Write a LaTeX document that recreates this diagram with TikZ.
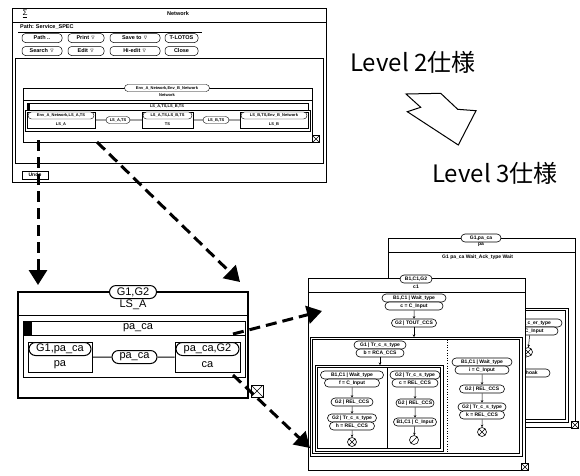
\documentclass[tikz,border=0pt]{standalone}
\usepackage{amssymb}
\usepackage{fontspec}
\setmainfont{Liberation Sans}
\newfontfamily\jfont{Noto Sans CJK JP}
\usetikzlibrary{positioning,shapes.misc,arrows.meta}

\begin{document}
\begin{tikzpicture}[
  x=1pt, y=-1pt,
  win/.style={draw, line width=0.8pt, fill=white},
  frm/.style={draw, line width=0.6pt},
  tiny/.style={font=\fontsize{4}{4}\selectfont\bfseries, inner sep=0pt},
  tgate/.style={draw, rounded rectangle, line width=0.4pt, fill=white, inner sep=0.4pt, minimum height=7pt, tiny},
  tbox/.style={draw, line width=0.4pt, fill=white, minimum height=16pt, inner sep=0pt},
  mtext/.style={font=\fontsize{11}{11}\selectfont, inner sep=0pt},
  mgate/.style={draw, rounded rectangle, line width=1pt, fill=white, inner sep=0.5pt, minimum height=13pt, mtext},
  mbox/.style={draw, line width=1pt, fill=white, minimum height=30pt, inner sep=0pt},
  rtext/.style={font=\fontsize{5}{5}\selectfont\bfseries, inner sep=0pt},
  rgate/.style={draw, rounded rectangle, line width=0.6pt, fill=white, inner sep=0.4pt, minimum height=8pt, rtext},
  btn/.style={draw, rounded corners=3.5pt, line width=0.5pt, minimum height=9pt, inner sep=1pt, font=\fontsize{5.5}{6}\selectfont\bfseries},
  closebox/.style={draw, line width=0.6pt, fill=white, inner sep=0pt, path picture={\draw (path picture bounding box.north west) -- (path picture bounding box.south east) (path picture bounding box.north east) -- (path picture bounding box.south west);}},
  endx/.style={draw, circle, line width=0.6pt, minimum size=9pt, inner sep=0pt, path picture={\draw (path picture bounding box.north west) -- (path picture bounding box.south east) (path picture bounding box.north east) -- (path picture bounding box.south west);}},
  endslash/.style={draw, circle, line width=0.6pt, minimum size=9pt, inner sep=0pt, path picture={\draw (path picture bounding box.south west) -- (path picture bounding box.north east);}},
  flow/.style={-{Stealth[length=2.5pt,width=2.5pt]}, line width=0.5pt},
  dasharr/.style={-{Triangle[length=15pt,width=18pt]}, line width=3pt, dash pattern=on 11pt off 6pt},
]
\fill[white] (0,0) rectangle (580,475);
\useasboundingbox (0,0) rectangle (580,475);

% --- Level 2 window ---
\draw[win] (12,8) rectangle (326,182);
\draw[frm] (12,22) -- (326,22);
\node[font=\fontsize{8}{8}\selectfont] (sigma) at (25,14) {\underline{Σ}};
\node[font=\fontsize{5.5}{6}\selectfont\bfseries] (title) at (178,14) {Network};
\node[font=\fontsize{5.5}{6}\selectfont\bfseries, anchor=west, inner sep=0pt] (path) at (20,27) {Path: Service\_SPEC};
\draw[frm] (18,32) -- (202,32);
\node[btn, minimum width=40pt] (bpath) at (42,38) {Path ..};
\node[btn, minimum width=36pt] (bprint) at (86,38) {Print $\triangledown$};
\node[btn, minimum width=50pt] (bsave) at (135,38) {Save to $\triangledown$};
\node[btn, minimum width=33pt] (blotos) at (181.5,38) {T-LOTOS};
\node[btn, minimum width=40pt] (bsearch) at (42,51) {Search $\triangledown$};
\node[btn, minimum width=36pt] (bedit) at (86,51) {Edit $\triangledown$};
\node[btn, minimum width=50pt] (bhiedit) at (135,51) {Hi-edit $\triangledown$};
\node[btn, minimum width=33pt] (bclose) at (181.5,51) {Close};
\draw[frm] (15,58) rectangle (323,163);
\node[draw, fill=white, line width=0.5pt, minimum width=26pt, minimum height=8pt, inner sep=0pt, font=\fontsize{5}{5}\selectfont\bfseries] (undo) at (35,175) {Undo};

% --- Network behaviour ---
\draw[frm] (23,88) rectangle (312,142);
\node[tgate, minimum width=85pt] (netg) at (167,88) {Env\_A\_Network,Env\_B\_Network};
\node[tiny] (net) at (167,95) {Network};
\draw[frm] (23,100) -- (312,100);
\draw[frm] (27,103) rectangle (308,110);
\fill (27,103) rectangle (30,110);
\node[tiny] (netbar) at (167,106.5) {LS\_A,TS,LS\_B,TS};
\draw[frm] (25,110) rectangle (310,131);
\node[tbox, minimum width=68pt] (lsa) at (61,120) {};
\node[tgate, minimum width=66pt] (lsag) at (61,115.5) {Env\_A\_Network,LS\_A,TS};
\node[tiny] at (61,124.5) {LS\_A};
\node[tgate, minimum width=24pt] (hida) at (118,120) {LS\_A,TS};
\node[tbox, minimum width=51pt] (ts) at (167.5,120) {};
\node[tgate, minimum width=49pt] (tsg) at (167.5,115.5) {LS\_A,TS,LS\_B,TS};
\node[tiny] at (167.5,124.5) {TS};
\node[tgate, minimum width=26pt] (hidb) at (216,120) {LS\_B,TS};
\node[tbox, minimum width=68pt] (lsb) at (274,120) {};
\node[tgate, minimum width=66pt] (lsbg) at (274,115.5) {LS\_B,TS,Env\_B\_Network};
\node[tiny] at (274,124.5) {LS\_B};
\draw[frm] (lsa) -- (hida) -- (ts) -- (hidb) -- (lsb);
\node[closebox, minimum size=7pt] (tclose) at (316,139) {};

% --- Level 2 / Level 3 ---
\node[font=\fontsize{24}{24}\jfont, anchor=west, inner sep=0pt] (lv2) at (350,62) {Level 2仕様};
\node[font=\fontsize{24}{24}\jfont, anchor=west, inner sep=0pt] (lv3) at (432,173) {Level 3仕様};
\draw[line width=1pt, line join=miter] (406,94) -- (440.7,93.3) -- (457.7,109.3) -- (476,110.7) -- (458.3,145) -- (407.3,111.7) -- (420.7,107.3) -- cycle;

% --- LS_A window ---
\draw[win, line width=1.2pt] (18,292) rectangle (248,398);
\node[mgate, minimum width=47pt] (g12) at (133,292) {G1,G2};
\node[mtext] (lsA) at (133,305) {LS\_A};
\draw[frm, line width=1pt] (18,315) -- (248,315);
\draw[frm, line width=1pt] (23,321) rectangle (245,335);
\fill (23,321) rectangle (32,335);
\node[mtext] (paca) at (138,328) {pa\_ca};
\draw[frm, line width=1pt] (23,335) rectangle (245,377);
\node[mbox, minimum width=64pt] (pa) at (60,357) {};
\node[mgate, minimum width=62pt] (pag) at (60,349) {G1,pa\_ca};
\node[mtext] at (60,365) {pa};
\node[mgate, minimum width=45pt] (hidpa) at (134.5,357) {pa\_ca};
\node[mbox, minimum width=65pt] (ca) at (207.5,357) {};
\node[mgate, minimum width=63pt] (cag) at (207.5,349) {pa\_ca,G2};
\node[mtext] at (207.5,365) {ca};
\draw[line width=1pt] (pa) -- (hidpa) -- (ca);
\node[closebox, minimum size=12pt] (mclose) at (257,391) {};

% --- pa window (behind) ---
\draw[win] (388,238) rectangle (575,427);
\node[rgate, minimum width=40pt] (bwg) at (481,238) {G1,pa\_ca};
\node[rtext] at (481,245) {pa};
\draw[frm] (388,252) -- (575,252);
\node[rtext, anchor=west] (bwbar) at (442,257) {G1 pa\_ca Wait\_Ack\_type Wait};
\draw[frm] (395,308) rectangle (568,422);
\draw[frm] (397.5,310.5) rectangle (565.5,419.5);
\node[rgate, minimum width=64pt] (bwa) at (530,323) {G2 | Tr\_c\_er\_type};
\node[rgate, minimum width=56pt] (bwb) at (530,331) {c = C\_Input};
\node[endx] (bwx) at (528,352) {};
\node[rgate, minimum width=60pt] (bwc) at (520,373) {C1 | C\_Anhoak};
\draw[flow] (bwb) -- (bwx);
\draw[flow] (bwx) -- (bwc);
\node[closebox, minimum size=7pt] (bclose) at (575,425) {};

% --- ca window (front) ---
\draw[win] (308,278) rectangle (525,470);
\node[rgate, minimum width=32pt] (fwg) at (416,279) {B1,C1,G2};
\node[rtext] at (416,287) {c1};
\draw[frm] (308,292) -- (525,292);
\node[rgate, minimum width=64pt] (s1) at (414,298) {B1,C1 | Wait\_type};
\node[rgate, minimum width=58pt] (s2) at (414,306) {c = C\_Input};
\node[rgate, minimum width=45pt] (s3) at (414,323) {G2 | TOUT\_CCS};
\coordinate (opt1) at (414,337);
\draw[flow] (s2) -- (s3);
\draw[flow] (s3) -- (opt1);
\draw[frm] (310,337) rectangle (522,456);
\draw[frm] (312.5,339.5) rectangle (519.5,453.5);
\draw[dotted, line width=0.6pt] (447,339.5) -- (447,453.5);

% left branch
\node[rgate, minimum width=52pt] (l1) at (380,345) {G1 | Tr\_c\_s\_type};
\node[rgate, minimum width=48pt] (l2) at (380,353) {b = RCA\_CCS};
\coordinate (opt2) at (380,365);
\draw[flow] (l2) -- (opt2);
\draw[frm] (315,365) rectangle (443,451);
\draw[frm] (317.5,367.5) rectangle (440.5,448.5);
\draw[frm] (387,367.5) -- (387,448.5);

\node[rgate, minimum width=63pt] (a1) at (352,375) {B1,C1 | Wait\_type};
\node[rgate, minimum width=55pt] (a2) at (352,383) {f = C\_Input};
\node[rgate, minimum width=42pt] (a3) at (352,402) {G2 | REL\_CCS};
\node[rgate, minimum width=49pt] (a4) at (352,418) {G2 | Tr\_c\_s\_type};
\node[rgate, minimum width=45pt] (a5) at (352,426) {h = REL\_CCS};
\node[endx] (a6) at (352,442) {};
\draw[flow] (a2) -- (a3);
\draw[flow] (a3) -- (a4);
\draw[flow] (a5) -- (a6);

\node[rgate, minimum width=50pt] (b1) at (415,375) {G2 | Tr\_c\_s\_type};
\node[rgate, minimum width=46pt] (b2) at (415,383) {c = REL\_CCS};
\node[rgate, minimum width=38pt] (b3) at (415,403) {G2 | REL\_CCS};
\node[rgate, minimum width=43pt] (b4) at (415,422) {B1,C1 | C\_Input};
\node[endslash] (b5) at (414,440) {};
\draw[flow] (b2) -- (b3);
\draw[flow] (b3) -- (b4);
\draw[flow] (b4) -- (b5);

% right branch
\node[rgate, minimum width=60pt] (c1) at (482,362) {B1,C1 | Wait\_type};
\node[rgate, minimum width=54pt] (c2) at (482,370) {i = C\_Input};
\node[rgate, minimum width=45pt] (c3) at (482,389) {G2 | REL\_CCS};
\node[rgate, minimum width=48pt] (c4) at (482,407) {G2 | Tr\_c\_s\_type};
\node[rgate, minimum width=45pt] (c5) at (482,415) {k = REL\_CCS};
\node[endx] (c6) at (482,432) {};
\draw[flow] (c2) -- (c3);
\draw[flow] (c3) -- (c4);
\draw[flow] (c5) -- (c6);
\node[closebox, minimum size=7pt] (fclose) at (525,467) {};

% --- Zoom arrows ---
\coordinate (zl1) at (38,140);
\coordinate (zl2) at (38,285);
\coordinate (zr1) at (97,142);
\coordinate (zr2) at (240,282);
\coordinate (zc1) at (233,334);
\coordinate (zc2) at (322,311);
\coordinate (zc3) at (233,375);
\coordinate (zc4) at (310,448);
\draw[dasharr] (zl1) -- (zl2);
\draw[dasharr] (zr1) -- (zr2);
\draw[dasharr] (zc1) -- (zc2);
\draw[dasharr] (zc3) -- (zc4);
\end{tikzpicture}
\end{document}
